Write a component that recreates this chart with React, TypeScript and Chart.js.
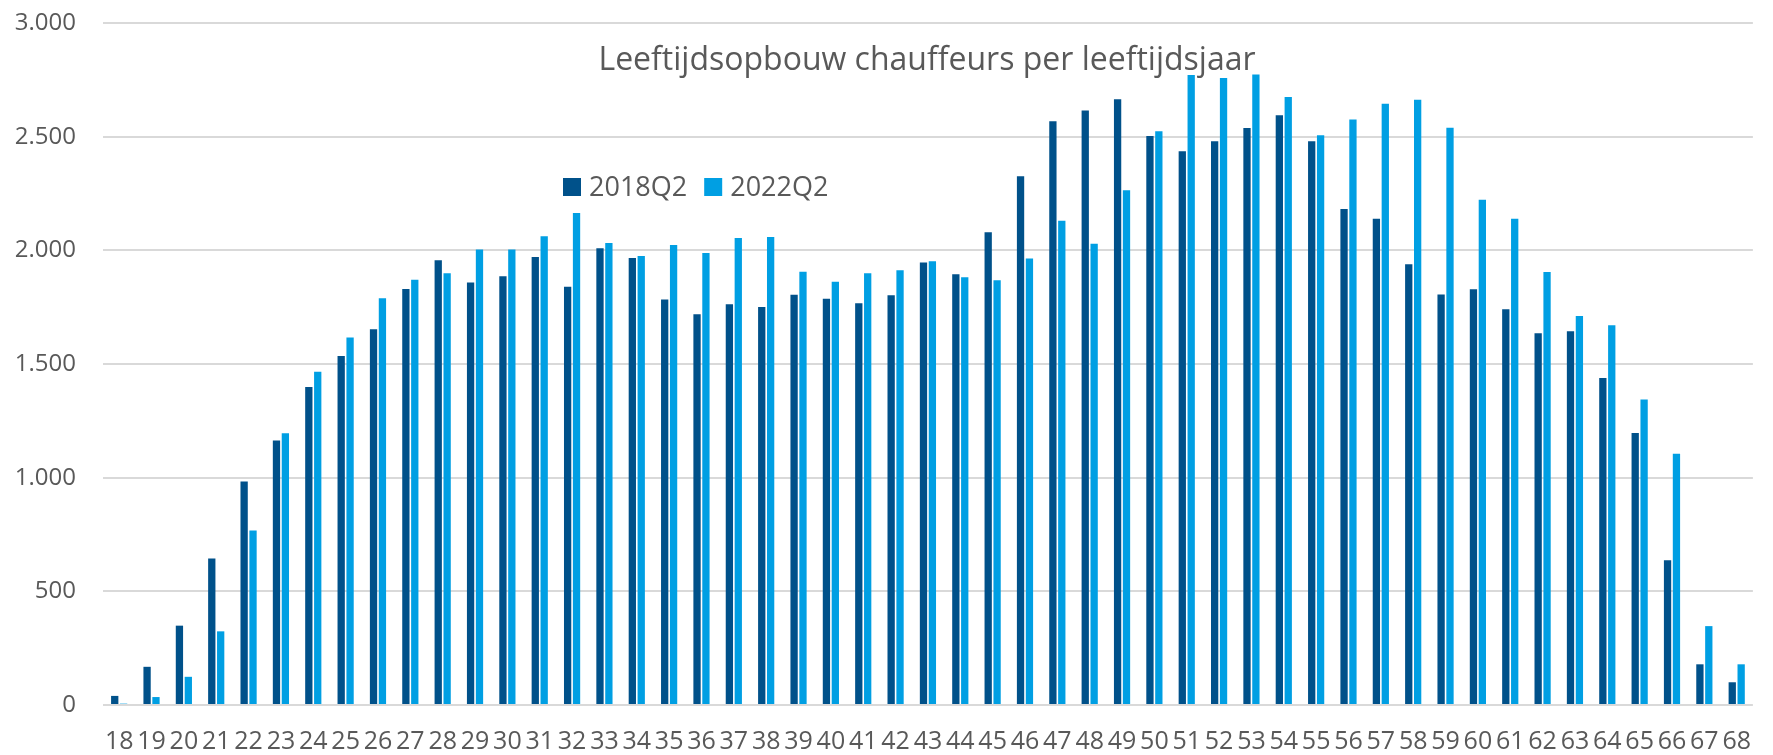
import React, { useEffect, useRef } from "react";
import { Chart, registerables } from "chart.js";

Chart.register(...registerables);

const chartTitle = "Leeftijdsopbouw chauffeurs per leeftijdsjaar";

const ages = [
  "18", "19", "20", "21", "22", "23", "24", "25", "26", "27",
  "28", "29", "30", "31", "32", "33", "34", "35", "36", "37",
  "38", "39", "40", "41", "42", "43", "44", "45", "46", "47",
  "48", "49", "50", "51", "52", "53", "54", "55", "56", "57",
  "58", "59", "60", "61", "62", "63", "64", "65", "66", "67", "68",
];

const seriesLabels = ["2018Q2", "2022Q2"];

const values2018 = [
  40, 168, 349, 644, 983, 1164, 1399, 1535, 1653, 1830,
  1956, 1859, 1886, 1971, 1840, 2009, 1966, 1784, 1719, 1763,
  1751, 1805, 1787, 1767, 1802, 1947, 1895, 2079, 2326, 2568,
  2615, 2665, 2503, 2436, 2480, 2538, 2594, 2480, 2182, 2139,
  1939, 1806, 1829, 1741, 1635, 1644, 1438, 1196, 637, 179, 100,
];

const values2022 = [
  6, 35, 124, 324, 768, 1195, 1466, 1617, 1789, 1871,
  1899, 2004, 2004, 2062, 2164, 2032, 1975, 2023, 1988, 2054,
  2059, 1906, 1862, 1899, 1912, 1952, 1882, 1868, 1964, 2130,
  2029, 2264, 2524, 2771, 2758, 2773, 2674, 2506, 2576, 2645,
  2662, 2539, 2223, 2139, 1905, 1711, 1670, 1344, 1105, 347, 179,
];

const yMin = 0;
const yMax = 3000;
const yStep = 500;

const colors = ["#00518A", "#009FE3"];
const textColor = "#595959";
const gridColor = "#D9D9D9";
const fontFamily = "'Open Sans', 'Noto Sans', sans-serif";

const formatThousands = (v: number) =>
  String(Math.round(v)).replace(/\B(?=(\d{3})+(?!\d))/g, ".");

const overlayPlugin = {
  id: "overlayTitleLegend",
  afterDraw(chart: any) {
    const ctx = chart.ctx;
    ctx.save();
    // title
    ctx.fillStyle = textColor;
    ctx.font = `32px ${fontFamily}`;
    ctx.textAlign = "center";
    ctx.textBaseline = "alphabetic";
    ctx.fillText(chartTitle, 927, 70);

    // legend
    ctx.font = `27px ${fontFamily}`;
    ctx.textAlign = "left";
    ctx.textBaseline = "middle";
    let x = 563;
    const cy = 187;
    const box = 18;
    chart.data.datasets.forEach((ds: any) => {
      ctx.fillStyle = ds.backgroundColor;
      ctx.fillRect(x, cy - box / 2, box, box);
      x += box + 8;
      ctx.fillStyle = textColor;
      ctx.fillText(ds.label, x, cy + 1);
      x += ctx.measureText(ds.label).width + 17;
    });
    ctx.restore();
  },
};

export default function App() {
  const canvasRef = useRef<HTMLCanvasElement | null>(null);

  useEffect(() => {
    const canvas = canvasRef.current;
    if (!canvas) return;
    const chart = new Chart(canvas, {
      type: "bar",
      data: {
        labels: ages,
        datasets: [
          {
            label: seriesLabels[0],
            data: values2018,
            backgroundColor: colors[0],
            categoryPercentage: 0.55,
            barPercentage: 0.82,
          },
          {
            label: seriesLabels[1],
            data: values2022,
            backgroundColor: colors[1],
            categoryPercentage: 0.55,
            barPercentage: 0.82,
          },
        ],
      },
      options: {
        responsive: false,
        animation: false,
        devicePixelRatio: 1,
        layout: { padding: { top: 23, right: 0, bottom: 0, left: 0 } },
        plugins: {
          legend: { display: false },
          title: { display: false },
          tooltip: { enabled: false },
        },
        scales: {
          x: {
            grid: { display: false, drawTicks: false },
            border: { display: false },
            ticks: {
              autoSkip: false,
              maxRotation: 0,
              minRotation: 0,
              padding: 22,
              color: textColor,
              font: { family: fontFamily, size: 25 },
            },
            afterFit: (scale: any) => {
              scale.height = 50;
            },
          },
          y: {
            min: yMin,
            max: yMax,
            grid: { color: gridColor, lineWidth: 2, drawTicks: false },
            border: { display: false },
            ticks: {
              stepSize: yStep,
              padding: 27,
              color: textColor,
              font: { family: fontFamily, size: 24 },
              callback: (v: any) => formatThousands(Number(v)),
            },
            afterFit: (scale: any) => {
              scale.width = 103;
              scale.paddingTop = 0;
              scale.paddingBottom = 0;
            },
          },
        },
      },
      plugins: [overlayPlugin],
    });
    return () => chart.destroy();
  }, []);

  return (
    <div style={{ position: "fixed", left: 0, top: 0, width: 1773, height: 755, background: "#fff" }}>
      <canvas ref={canvasRef} width={1773} height={755} style={{ width: 1773, height: 755, display: "block" }} />
    </div>
  );
}
